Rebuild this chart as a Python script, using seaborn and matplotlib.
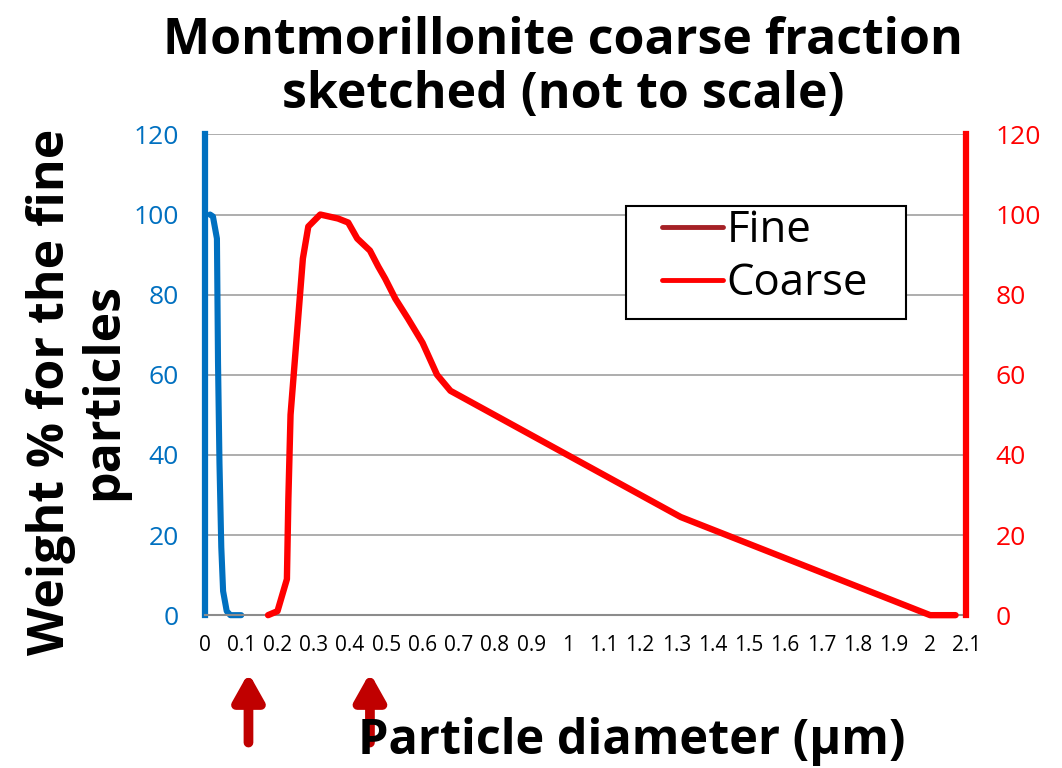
import matplotlib
matplotlib.use("Agg")
import matplotlib.pyplot as plt
from matplotlib.lines import Line2D
from matplotlib.patches import Rectangle
import seaborn as sns
import numpy as np

# fine particles (left axis)
fine_x = [0.014, 0.022, 0.033, 0.036, 0.040, 0.045, 0.050, 0.060, 0.070, 0.100]
fine_y = [100, 99.5, 94, 63, 38, 17, 6, 1, 0, 0]

# coarse particles (right axis)
coarse_x = [0.174, 0.20, 0.226, 0.23, 0.236, 0.27, 0.285, 0.318, 0.367, 0.395, 0.42,
            0.455, 0.478, 0.497, 0.525, 0.56, 0.58, 0.60, 0.64, 0.677, 1.312, 2.0, 2.07]
coarse_y = [0, 1, 9, 29, 50, 89, 97, 100, 99, 98, 94,
            91, 87, 84, 79, 74, 71, 68, 60, 56, 24.5, 0, 0]

x_ticks = [round(0.1 * i, 1) for i in range(22)]
x_labels = ["0", "0.1", "0.2", "0.3", "0.4", "0.5", "0.6", "0.7", "0.8", "0.9", "1",
            "1.1", "1.2", "1.3", "1.4", "1.5", "1.6", "1.7", "1.8", "1.9", "2", "2.1"]
y_ticks = [0, 20, 40, 60, 80, 100, 120]
arrow_x = [0.12, 0.455]

blue = "#0070C0"
red = "#FF0000"
dark_red = "#A52126"

sns.set_style("white")
plt.rcParams['font.family'] = ['Open Sans', 'DejaVu Sans']
plt.rcParams['text.color'] = 'black'

fig = plt.figure(figsize=(10.62, 7.68), dpi=100)
ax = fig.add_axes([0.193, 0.199, 0.717, 0.626])
ax2 = ax.twinx()

sns.lineplot(x=fine_x, y=fine_y, ax=ax, color=blue, linewidth=4.4, sort=False,
             clip_on=False)
sns.lineplot(x=coarse_x, y=coarse_y, ax=ax2, color=red, linewidth=4.6, sort=False,
             clip_on=False)

for a in (ax, ax2):
    a.set_xlim(0, 2.1)
    a.set_ylim(0, 120)
    a.set_yticks(y_ticks)
    for s in a.spines.values():
        s.set_visible(False)

ax.set_xticks(x_ticks)
ax.set_xticklabels(x_labels, fontsize=15)
ax.tick_params(axis='x', length=0, pad=14, colors='black')
ax.set_yticklabels([str(v) for v in y_ticks], fontsize=19, color=blue)
ax.tick_params(axis='y', length=0, pad=19)
ax2.set_yticklabels([str(v) for v in y_ticks], fontsize=19, color=red)
ax2.tick_params(axis='y', length=0, pad=21)

ax.yaxis.grid(True, color="#A0A0A0", linewidth=1.2)
ax.set_axisbelow(True)
ax.spines['bottom'].set_visible(True)
ax.spines['bottom'].set_color("#8C8C8C")
ax.spines['bottom'].set_linewidth(1.5)
ax.spines['left'].set_visible(True)
ax.spines['left'].set_color(blue)
ax.spines['left'].set_linewidth(4.5)
ax2.spines['right'].set_visible(True)
ax2.spines['right'].set_color(red)
ax2.spines['right'].set_linewidth(4.5)

# legend box drawn separately so the padding can differ per side
ax2.add_patch(Rectangle((0.553, 0.617), 0.368, 0.235, transform=ax2.transAxes,
                        facecolor='white', edgecolor='black', linewidth=1.5,
                        zorder=4, clip_on=False))
handles = [Line2D([], [], color=dark_red, linewidth=3.5, solid_capstyle='round'),
           Line2D([], [], color=red, linewidth=3.5, solid_capstyle='round')]
leg = ax2.legend(handles, ["Fine", "Coarse"], loc='upper left',
                 bbox_to_anchor=(0.6, 0.846), borderaxespad=0, fontsize=31.5,
                 frameon=False, handlelength=1.4, handletextpad=0.08,
                 borderpad=0, labelspacing=0.2)
leg.set_zorder(5)
for t in leg.get_texts():
    t.set_color('black')

for xa in arrow_x:
    ax.annotate("", xy=(xa, -0.12), xycoords=('data', 'axes fraction'),
                xytext=(xa, -0.265), textcoords=('data', 'axes fraction'),
                arrowprops=dict(arrowstyle='-|>,head_width=0.9,head_length=1.6',
                                color="#C00000", linewidth=7, shrinkA=0, shrinkB=0),
                annotation_clip=False)

fig.text(0.53, 0.911, "Montmorillonite coarse fraction\nsketched (not to scale)",
         ha='center', va='center', fontsize=36, fontweight='bold', linespacing=1.1)
fig.text(0.073, 0.49, "Weight % for the fine\nparticles", rotation=90,
         ha='center', va='center', fontsize=36, fontweight='bold', linespacing=1.1)
fig.text(0.595, 0.034, "Particle diameter (µm)", ha='center', va='center',
         fontsize=35, fontweight='bold')

fig.savefig("out.png", dpi=100)
